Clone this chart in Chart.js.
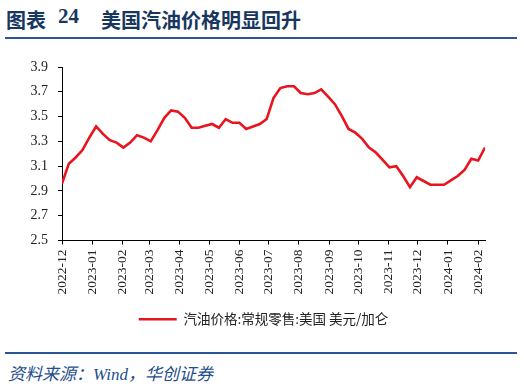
<!DOCTYPE html>
<html>
<head>
<meta charset="utf-8">
<script src="https://cdn.jsdelivr.net/npm/chart.js@4.4.0/dist/chart.umd.min.js"></script>
<style>
body { margin: 0; background: #fff; width: 524px; height: 387px; position: relative; overflow: hidden; }
.t { position: absolute; top: 5px; font-weight: bold; font-size: 20px; color: #17375e; font-family: "Noto Sans CJK SC"; white-space: nowrap; }
.num { font-family: "Liberation Serif"; font-size: 21px; top: 4px; }
.rule { position: absolute; left: 5px; width: 512px; height: 2px; background: #2c5597; }
#src { position: absolute; left: 8px; top: 360px; font-style: italic; font-size: 17px; color: #1f4e8c; font-family: "Liberation Serif", "Noto Sans CJK SC"; white-space: nowrap; }
#box { position: absolute; left: 0; top: 45px; width: 524px; height: 295px; }
</style>
</head>
<body>
<div class="t" style="left:6px">图表</div>
<div class="t num" style="left:58px">24</div>
<div class="t" style="left:101px">美国汽油价格明显回升</div>
<div class="rule" style="top:37px"></div>
<div id="box"><canvas id="chart"></canvas></div>
<div class="rule" style="top:352px"></div>
<div id="src">资料来源：Wind，华创证券</div>
<script>
// weekly observations
var weeks = [
    '2022-12-01', '2022-12-08', '2022-12-15', '2022-12-22', '2022-12-29',
    '2023-01-05', '2023-01-12', '2023-01-19', '2023-01-26',
    '2023-02-02', '2023-02-09', '2023-02-16', '2023-02-23',
    '2023-03-02', '2023-03-09', '2023-03-16', '2023-03-23', '2023-03-30',
    '2023-04-06', '2023-04-13', '2023-04-20', '2023-04-27',
    '2023-05-04', '2023-05-11', '2023-05-18', '2023-05-25',
    '2023-06-01', '2023-06-08', '2023-06-15', '2023-06-22', '2023-06-29',
    '2023-07-06', '2023-07-13', '2023-07-20', '2023-07-27',
    '2023-08-03', '2023-08-10', '2023-08-17', '2023-08-24', '2023-08-31',
    '2023-09-07', '2023-09-14', '2023-09-21', '2023-09-28',
    '2023-10-05', '2023-10-12', '2023-10-19', '2023-10-26',
    '2023-11-02', '2023-11-09', '2023-11-16', '2023-11-23', '2023-11-30',
    '2023-12-07', '2023-12-14', '2023-12-21', '2023-12-28',
    '2024-01-04', '2024-01-11', '2024-01-18', '2024-01-25',
    '2024-02-01', '2024-02-08'
];

var gasPrice = [
    2.96, 3.12, 3.17, 3.23, 3.33,
    3.42, 3.36, 3.31, 3.29,
    3.25, 3.29, 3.35, 3.33,
    3.30, 3.39, 3.49, 3.55, 3.54,
    3.49, 3.41, 3.41, 3.425,
    3.44, 3.41, 3.48, 3.45,
    3.45, 3.40, 3.42, 3.44, 3.48,
    3.65, 3.73, 3.745, 3.745,
    3.69, 3.68, 3.69, 3.72, 3.66,
    3.60, 3.505, 3.40, 3.37,
    3.32, 3.25, 3.21, 3.15,
    3.09, 3.10, 3.02, 2.93, 3.01,
    2.98, 2.95, 2.95, 2.95,
    2.985, 3.02, 3.07, 3.16,
    3.145, 3.25
];

var monthTicks = ['2022-12', '2023-01', '2023-02', '2023-03', '2023-04', '2023-05', '2023-06',
    '2023-07', '2023-08', '2023-09', '2023-10', '2023-11', '2023-12', '2024-01', '2024-02'];

var seriesName = '汽油价格:常规零售:美国 美元/加仑';

var start = Date.parse(weeks[0]);
function dayOf(s) {
    return (Date.parse(s) - start) / 86400000;
}

var points = [];
for (var i = 0; i < weeks.length; i++) {
    points.push({x: dayOf(weeks[i]), y: gasPrice[i]});
}
var tickDays = monthTicks.map(function (m) { return dayOf(m + '-01'); });

var serif = '"Times New Roman", "Liberation Serif", serif';

// legend in the original sits centred on the whole page, not the padded box
var legendShift = {
    id: 'legendShift',
    afterLayout: function (chart) {
        chart.legend.left += 21;
        chart.legend.right += 21;
    }
};

var ctx = document.getElementById('chart').getContext('2d');
var myChart = new Chart(ctx, {
    type: 'line',
    data: {
        datasets: [{
            label: seriesName,
            data: points,
            borderColor: '#e8141e',
            backgroundColor: '#e8141e',
            borderWidth: 2.6,
            pointRadius: 0,
            tension: 0,
            fill: false
        }]
    },
    plugins: [legendShift],
    options: {
        responsive: true,
        maintainAspectRatio: false,
        animation: false,
        layout: {padding: {top: 22, left: 0, right: 39, bottom: 4}},
        plugins: {
            tooltip: {enabled: false},
            legend: {
                position: 'bottom',
                labels: {
                    usePointStyle: true,
                    pointStyle: 'line',
                    pointStyleWidth: 38,
                    color: '#222',
                    padding: 10,
                    font: {family: '"Noto Sans CJK SC"', size: 13.5}
                }
            }
        },
        scales: {
            x: {
                type: 'linear',
                min: 0,
                max: dayOf(weeks[weeks.length - 1]),
                afterBuildTicks: function (scale) {
                    scale.ticks = tickDays.map(function (v) { return {value: v}; });
                },
                afterFit: function (scale) { scale.height = 62; },
                grid: {drawOnChartArea: false, drawTicks: true, tickLength: 4, tickColor: '#000'},
                border: {color: '#000', width: 1},
                ticks: {
                    autoSkip: false,
                    maxRotation: 90,
                    minRotation: 90,
                    padding: 5,
                    color: '#222',
                    font: {family: serif, size: 13.5},
                    callback: function (value, index) { return monthTicks[index]; }
                }
            },
            y: {
                min: 2.5,
                max: 3.9,
                afterFit: function (scale) { scale.width = 62; },
                grid: {drawOnChartArea: false, drawTicks: true, tickLength: 4, tickColor: '#000'},
                border: {color: '#000', width: 1},
                ticks: {
                    stepSize: 0.2,
                    padding: 10,
                    color: '#222',
                    font: {family: serif, size: 14},
                    callback: function (value) { return value.toFixed(1); }
                }
            }
        }
    }
});
</script>
</body>
</html>
